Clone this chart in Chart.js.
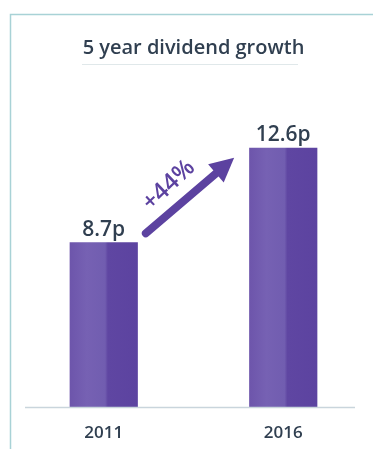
<!DOCTYPE html>
<html>
<head>
<meta charset="utf-8">
<script src="https://cdn.jsdelivr.net/npm/chart.js@4"></script>
<style>
  body { margin: 0; background: #fff; }
  #wrap { width: 373px; height: 449px; }
</style>
</head>
<body>
<div id="wrap"><canvas id="chart" width="373" height="449"></canvas></div>
<script>
// data
const years = ['2011', '2016'];
const dividend = [8.7, 12.6];
const valueLabels = ['8.7p', '12.6p'];
const growthLabel = '+44%';

const textColor = '#303f50';
const purple = '#5c42a0';

// frame, title underline, baseline, value labels and the growth arrow
const decorations = {
  id: 'decorations',
  beforeDraw(chart) {
    const ctx = chart.ctx;
    ctx.save();
    ctx.strokeStyle = '#a8d2d6';
    ctx.lineWidth = 1.5;
    ctx.beginPath();
    ctx.moveTo(10.5, 449);
    ctx.lineTo(10.5, 14.5);
    ctx.lineTo(373, 14.5);
    ctx.stroke();

    ctx.strokeStyle = '#e0e8ea';
    ctx.lineWidth = 1;
    ctx.beginPath();
    ctx.moveTo(82, 64.5);
    ctx.lineTo(298, 64.5);
    ctx.stroke();
    ctx.restore();
  },
  afterDatasetsDraw(chart) {
    const ctx = chart.ctx;
    ctx.save();
    // baseline
    ctx.strokeStyle = '#c9d5dc';
    ctx.lineWidth = 1.5;
    ctx.beginPath();
    ctx.moveTo(25, chart.chartArea.bottom + 0.5);
    ctx.lineTo(355, chart.chartArea.bottom + 0.5);
    ctx.stroke();

    // value labels
    const meta = chart.getDatasetMeta(0);
    ctx.fillStyle = textColor;
    ctx.font = '600 21px "Open Sans"';
    ctx.textAlign = 'center';
    ctx.textBaseline = 'bottom';
    meta.data.forEach((bar, i) => {
      ctx.fillText(valueLabels[i], bar.x, bar.y - 2);
    });

    // arrow from the first bar's top towards the second
    const b0 = meta.data[0], b1 = meta.data[1];
    const x0 = b0.x + b0.width / 2 + 8, y0 = b0.y - 9;
    const x1 = b1.x - b1.width / 2 - 15, y1 = b1.y + 10;
    const ang = Math.atan2(y1 - y0, x1 - x0);
    const headLen = 24, headW = 12;
    const bx = x1 - headLen * Math.cos(ang), by = y1 - headLen * Math.sin(ang);
    ctx.strokeStyle = purple;
    ctx.fillStyle = purple;
    ctx.lineWidth = 8;
    ctx.lineCap = 'round';
    ctx.beginPath();
    ctx.moveTo(x0, y0);
    ctx.lineTo(bx, by);
    ctx.stroke();
    ctx.beginPath();
    ctx.moveTo(x1, y1);
    ctx.lineTo(bx + headW * Math.sin(ang), by - headW * Math.cos(ang));
    ctx.lineTo(bx - headW * Math.sin(ang), by + headW * Math.cos(ang));
    ctx.closePath();
    ctx.fill();

    // growth label, rotated along the arrow
    const mx = (x0 + bx) / 2, my = (y0 + by) / 2;
    ctx.translate(mx - 12, my - 18);
    ctx.rotate(ang - 0.05);
    ctx.font = '600 24px "Open Sans"';
    ctx.textBaseline = 'middle';
    ctx.fillText(growthLabel, 0, 0);
    ctx.restore();
  }
};

function barGradient(context) {
  const chart = context.chart;
  if (!chart.chartArea) return purple;
  const cx = chart.scales.x.getPixelForValue(context.dataIndex);
  const g = chart.ctx.createLinearGradient(cx - 34, 0, cx + 34, 0);
  g.addColorStop(0, '#6d55ab');
  g.addColorStop(0.25, '#7661b3');
  g.addColorStop(0.52, '#715db0');
  g.addColorStop(0.56, '#5f46a2');
  g.addColorStop(1, '#5c43a0');
  return g;
}

new Chart(document.getElementById('chart'), {
  type: 'bar',
  data: {
    labels: years,
    datasets: [{
      data: dividend,
      backgroundColor: barGradient,
      barPercentage: 0.76,
      categoryPercentage: 0.5
    }]
  },
  options: {
    responsive: false,
    animation: false,
    layout: { padding: { left: 14, right: 0, top: 0, bottom: 0 } },
    plugins: {
      legend: { display: false },
      tooltip: { enabled: false },
      title: {
        display: true,
        text: '5 year dividend growth',
        color: textColor,
        font: { family: '"Open Sans"', size: 20, weight: '600' },
        padding: { top: 36, bottom: 20 }
      }
    },
    scales: {
      x: {
        grid: { display: false },
        border: { display: false },
        afterFit(scale) { scale.height = 42; },
        ticks: {
          color: textColor,
          padding: 8,
          font: { family: '"Open Sans"', size: 17, weight: '600' }
        }
      },
      y: {
        display: false,
        min: 1.9,
        max: 15.4
      }
    }
  },
  plugins: [decorations]
});
</script>
</body>
</html>
